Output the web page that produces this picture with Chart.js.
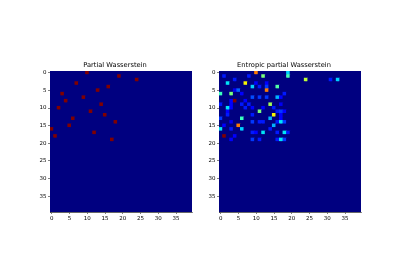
<!DOCTYPE html>
<html lang="en">
<head>
<meta charset="UTF-8">
<title>Partial Wasserstein</title>
<script src="https://cdn.jsdelivr.net/npm/chart.js"></script>
<style>
  html, body { margin: 0; padding: 0; background: #fff; }
  body { width: 400px; height: 280px; position: relative; overflow: hidden; }
  canvas { position: absolute; }
</style>
</head>
<body>
<canvas id="pw" width="170" height="175" style="left:30px;top:55px"></canvas>
<canvas id="epw" width="170" height="175" style="left:199px;top:55px"></canvas>

<script>
// 40 x 40 transport plans
const size = 40;
const tickLabels = [0, 5, 10, 15, 20, 25, 30, 35];

// partial plan: one cell per source row, all at the same (max) value
const pwRows = [0, 1, 2, 3, 4, 5, 6, 7, 8, 9, 10, 11, 12, 13, 14, 15, 16, 17, 18, 19];
const pwCols = [10, 19, 24, 7, 16, 13, 3, 9, 4, 14, 2, 11, 15, 6, 18, 5, 0, 12, 1, 17];

// entropic plan: non-zero cells, values relative to the max
const epwRows = [
    0, 0,
    1, 1, 1, 1,
    2, 2, 2, 2,
    3, 3, 3, 3,
    4, 4, 4, 4,
    5, 5, 5,
    6, 6, 6, 6,
    7, 7, 7, 7, 7,
    8, 8, 8,
    9, 9, 9, 9, 9, 9,
    10, 10, 10, 10, 10, 10,
    11, 11, 11, 11, 11,
    12, 12, 12, 12,
    13, 13, 13, 13,
    14, 14, 14, 14, 14, 14, 14,
    15, 15, 15,
    16, 16, 16, 16,
    17, 17, 17, 17, 17, 17,
    18, 18,
    19, 19, 19, 19, 19, 19
];
const epwCols = [
    10, 19,
    1, 8, 12, 19,
    4, 24, 31, 33,
    2, 7, 10, 13,
    9, 11, 13, 16,
    4, 5, 13,
    0, 3, 6, 18,
    9, 11, 13, 16, 17,
    3, 4, 7,
    0, 3, 6, 8, 14, 17,
    2, 3, 7, 9, 12, 15,
    2, 11, 16, 17, 18,
    2, 9, 15, 17,
    0, 6, 14, 17,
    3, 9, 11, 12, 16, 17, 18,
    1, 5, 15,
    0, 3, 6, 14,
    9, 10, 12, 16, 18, 19,
    1, 4,
    3, 9, 11, 16, 17, 18
];
const epwValues = [
    0.78, 0.33,
    0.15, 0.15, 0.5, 0.43,
    0.15, 0.58, 0.15, 0.33,
    0.35, 0.65, 0.12, 0.12,
    0.33, 0.15, 0.18, 0.45,
    0.1, 0.22, 0.78,
    0.42, 0.5, 0.12, 0.15,
    0.2, 0.18, 0.18, 0.3, 0.12,
    0.12, 1.0, 0.12,
    0.15, 0.12, 0.15, 0.15, 0.55, 0.1,
    0.35, 0.12, 0.15, 0.12, 0.12, 0.15,
    0.12, 0.5, 0.15, 0.18, 0.12,
    0.15, 0.15, 0.65, 0.12,
    0.18, 0.42, 0.3, 0.12,
    0.1, 0.18, 0.15, 0.15, 0.15, 0.35, 0.18,
    0.12, 0.78, 0.3,
    0.35, 0.15, 0.33, 0.15,
    0.15, 0.12, 0.35, 0.15, 0.35, 0.15,
    1.0, 0.12,
    0.12, 0.18, 0.15, 0.15, 0.35, 0.18
];

// matplotlib 'jet' colormap
const jetR = [[0, 0], [0.35, 0], [0.66, 1], [0.89, 1], [1, 0.5]];
const jetG = [[0, 0], [0.125, 0], [0.375, 1], [0.64, 1], [0.91, 0], [1, 0]];
const jetB = [[0, 0.5], [0.11, 1], [0.34, 1], [0.65, 0], [1, 0]];

function interp(pts, t) {
    for (let i = 1; i < pts.length; i++) {
        if (t <= pts[i][0]) {
            const [x0, y0] = pts[i - 1], [x1, y1] = pts[i];
            return y0 + (y1 - y0) * (t - x0) / (x1 - x0);
        }
    }
    return pts[pts.length - 1][1];
}

function jet(t) {
    const c = [jetR, jetG, jetB].map(p => Math.round(255 * interp(p, t)));
    return `rgb(${c[0]},${c[1]},${c[2]})`;
}

function buildMatrix(rows, cols, vals) {
    const m = Array.from({ length: size }, () => new Array(size).fill(0));
    rows.forEach((r, i) => { m[r][cols[i]] = vals ? vals[i] : 1; });
    return m;
}

// fill the plot area first so the cell seams do not show
const areaFill = {
    id: 'areaFill',
    beforeDatasetsDraw(chart) {
        const { ctx, chartArea: a } = chart;
        ctx.save();
        ctx.fillStyle = jet(0);
        ctx.fillRect(a.left, a.top, a.width, a.height);
        ctx.restore();
    }
};

function axis(extra) {
    return Object.assign({
        type: 'linear',
        min: -0.5,
        max: 39.5,
        offset: false,
        afterBuildTicks: ax => { ax.ticks = tickLabels.map(v => ({ value: v })); },
        grid: { display: true, drawOnChartArea: false, offset: false, tickLength: 2, color: '#000', lineWidth: 0.5 },
        border: { display: true, color: '#000', width: 0.6 },
        ticks: { padding: 1.5, color: '#000', autoSkip: false, maxRotation: 0, font: { family: 'DejaVu Sans', size: 5.5 } }
    }, extra);
}

function makeChart(id, title, matrix) {
    const max = Math.max(...matrix.flat());
    const points = [], colors = [];
    matrix.forEach((row, r) => row.forEach((v, c) => {
        points.push({ x: c, y: [r - 0.5, r + 0.5] });
        colors.push(jet(v / max));
    }));

    new Chart(document.getElementById(id), {
        type: 'bar',
        data: {
            datasets: [{
                data: points,
                backgroundColor: colors,
                borderWidth: 0,
                borderSkipped: false,
                grouped: false,
                barPercentage: 1,
                categoryPercentage: 1
            }]
        },
        options: {
            responsive: false,
            animation: false,
            layout: { padding: { left: 8, right: 8, top: 5.8, bottom: 6 } },
            plugins: {
                legend: { display: false },
                tooltip: { enabled: false },
                title: {
                    display: true,
                    text: title,
                    color: '#000',
                    font: { family: 'DejaVu Sans', size: 6.7, weight: 'normal', lineHeight: 1.2 },
                    padding: { top: 0, bottom: 2.2 }
                }
            },
            scales: {
                x: axis({ afterFit: ax => { ax.height = 12; } }),
                y: axis({ reverse: true, afterFit: ax => { ax.width = 12; } })
            }
        },
        plugins: [areaFill]
    });
}

makeChart('pw', 'Partial Wasserstein', buildMatrix(pwRows, pwCols));
makeChart('epw', 'Entropic partial Wasserstein', buildMatrix(epwRows, epwCols, epwValues));
</script>
</body>
</html>
